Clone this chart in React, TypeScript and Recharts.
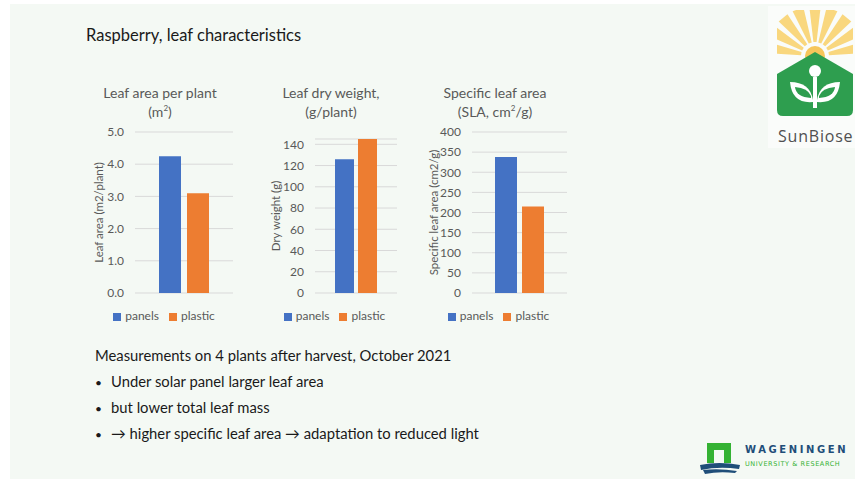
import React from "react"
import { Bar, BarChart, CartesianGrid, Legend, XAxis, YAxis } from "recharts"

const categories = ["raspberry"]
const seriesNames = ["panels", "plastic"]

const leafArea = [4.25, 3.1]
const dryWeight = [126, 145]
const specificLeafArea = [338, 215]

const leafAreaTicks = [0, 1, 2, 3, 4, 5]
const dryWeightTicks = [0, 20, 40, 60, 80, 100, 120, 140]
const slaTicks = [0, 50, 100, 150, 200, 250, 300, 350, 400]

const BLUE = "#4472c4"
const ORANGE = "#ed7d31"
const GREY = "#595959"
const FONT = "Lato, 'Open Sans', sans-serif"

const toRows = (values: number[]) =>
  categories.map((name) => ({
    name,
    [seriesNames[0]]: values[0],
    [seriesNames[1]]: values[1],
  }))

type PanelProps = {
  left: number
  width: number
  axisWidth: number
  marginTop: number
  values: number[]
  ticks: number[]
  domain: [number, number | string]
  yLabel: string
  barSize: number
  barGap: number
  format?: (v: number) => string
}

// chart is shifted 10px left so the rotated axis label has room
function Panel(p: PanelProps) {
  return (
    <div style={{ position: "absolute", left: p.left - 10, top: 122 }}>
      <BarChart
        width={p.width + 10}
        height={216}
        data={toRows(p.values)}
        margin={{ top: p.marginTop, right: 0, bottom: 0, left: 10 }}
        barSize={p.barSize}
        barGap={p.barGap}
      >
        <CartesianGrid vertical={false} stroke="#d9d9d9" />
        <XAxis dataKey="name" hide />
        <YAxis
          width={p.axisWidth}
          domain={p.domain}
          ticks={p.ticks}
          tickLine={false}
          axisLine={false}
          tickMargin={5}
          interval={0}
          tickFormatter={p.format}
          tick={{ fill: GREY, fontSize: 12, fontFamily: FONT }}
          label={{
            value: p.yLabel,
            angle: -90,
            position: "insideLeft",
            offset: 6,
            style: { textAnchor: "middle", fill: GREY, fontSize: 11.5, fontFamily: FONT },
          }}
        />
        <Legend
          height={30}
          iconType="square"
          iconSize={8}
          wrapperStyle={{ paddingTop: 15, paddingLeft: 6, fontFamily: FONT, fontSize: 12 }}
          formatter={(v) => <span style={{ color: GREY }}>{v}</span>}
        />
        <Bar dataKey={seriesNames[0]} fill={BLUE} isAnimationActive={false} />
        <Bar dataKey={seriesNames[1]} fill={ORANGE} isAnimationActive={false} />
      </BarChart>
    </div>
  )
}

const supStyle: React.CSSProperties = { fontSize: 8, lineHeight: 0 }

function ChartTitle({ center, lines }: { center: number; lines: React.ReactNode[] }) {
  return (
    <div
      style={{
        position: "absolute",
        left: center - 90,
        width: 180,
        top: 83,
        textAlign: "center",
        color: GREY,
        fontSize: 14,
        lineHeight: "19px",
        fontFamily: FONT,
      }}
    >
      {lines.map((l, i) => (
        <div key={i}>{l}</div>
      ))}
    </div>
  )
}

function SunBioseLogo() {
  const rays = []
  const cx = 815
  const cy = 56
  for (let i = 0; i < 9; i++) {
    const a0 = Math.PI + (i / 9) * Math.PI + 0.06
    const a1 = Math.PI + ((i + 1) / 9) * Math.PI - 0.06
    const r0 = 14
    const r1 = 50
    const pts = [
      [cx + r0 * Math.cos(a0), cy + r0 * Math.sin(a0)],
      [cx + r1 * Math.cos(a0), cy + r1 * Math.sin(a0)],
      [cx + r1 * Math.cos(a1), cy + r1 * Math.sin(a1)],
      [cx + r0 * Math.cos(a1), cy + r0 * Math.sin(a1)],
    ]
    rays.push(<polygon key={i} points={pts.map((q) => q.join(",")).join(" ")} fill="#f9d77e" />)
  }
  return (
    <svg width={855} height={160} style={{ position: "absolute", left: 0, top: 0 }}>
      <defs>
        <clipPath id="sunclip">
          <rect x={777} y={10} width={76} height={46} />
        </clipPath>
      </defs>
      <rect x={768} y={6} width={90} height={142} fill="#fafcfa" />
      <g clipPath="url(#sunclip)">{rays}</g>
      <circle cx={cx} cy={cy} r={10} fill="#f6c65b" />
      <path
        d="M777,74 L815,52 L853,74 L853,110 Q853,116 847,116 L783,116 Q777,116 777,110 Z"
        fill="#2e9e4f"
      />
      <circle cx={815} cy={71} r={6} fill="#ffffff" />
      <path d="M813,77 L817,77 L817,108 L813,108 Z" fill="#ffffff" />
      <path d="M813,102 Q792,104 790,82 Q810,82 813,100 Z" fill="#ffffff" />
      <path d="M817,102 Q838,104 840,82 Q820,82 817,100 Z" fill="#ffffff" />
      <path d="M811,98 Q796,97 795,87 Q808,88 811,96 Z" fill="#2e9e4f" />
      <path d="M819,98 Q834,97 835,87 Q822,88 819,96 Z" fill="#2e9e4f" />
    </svg>
  )
}

function WageningenLogo() {
  return (
    <>
      <svg width={60} height={40} style={{ position: "absolute", left: 695, top: 436 }}>
        <path d="M12,7 L36,7 L36,27 L29,27 L29,14 L19,14 L19,27 L12,27 Z" fill="#34b233" />
        <path d="M5,29 Q24,25 45,29 L44,33 Q24,30 6,34 Z" fill="#1f4e79" />
        <path d="M8,34 Q24,32 42,35 L40,37 Q24,35 10,38 Z" fill="#1f4e79" />
      </svg>
      <div
        style={{
          position: "absolute",
          left: 745,
          top: 444,
          fontFamily: "'DejaVu Sans', sans-serif",
          fontWeight: "bold",
          fontSize: 10,
          letterSpacing: 2.6,
          color: "#1f4e79",
          whiteSpace: "nowrap",
        }}
      >
        WAGENINGEN
      </div>
      <div
        style={{
          position: "absolute",
          left: 745,
          top: 460,
          fontFamily: "'DejaVu Sans', sans-serif",
          fontSize: 6.5,
          letterSpacing: 0.6,
          color: "#34b233",
          whiteSpace: "nowrap",
        }}
      >
        UNIVERSITY &amp; RESEARCH
      </div>
    </>
  )
}

const bullets = [
  "Under solar panel larger leaf area",
  "but lower total leaf mass",
  "\u2192 higher specific leaf area \u2192 adaptation to reduced light",
]

export default function App() {
  return (
    <div
      style={{
        position: "absolute",
        left: 0,
        top: 0,
        width: 855,
        height: 480,
        overflow: "hidden",
        background: "#ffffff",
        fontFamily: FONT,
      }}
    >
      <div
        style={{
          position: "absolute",
          left: 10,
          top: 4,
          width: 845,
          height: 475,
          background: "#f4f9f4",
        }}
      />
      <div
        style={{
          position: "absolute",
          left: 86,
          top: 25,
          fontSize: 16.5,
          color: "#1a1a1a",
          fontFamily: FONT,
        }}
      >
        Raspberry, leaf characteristics
      </div>

      <ChartTitle center={160} lines={["Leaf area per plant", <span>(m<sup style={supStyle}>2</sup>)</span>]} />
      <ChartTitle center={331} lines={["Leaf dry weight,", "(g/plant)"]} />
      <ChartTitle
        center={495}
        lines={["Specific leaf area", <span>(SLA, cm<sup style={supStyle}>2</sup>/g)</span>]}
      />

      <Panel
        left={93}
        width={140}
        axisWidth={42}
        marginTop={10}
        values={leafArea}
        ticks={leafAreaTicks}
        domain={[0, 5]}
        yLabel="Leaf area (m2/plant)"
        barSize={22}
        barGap={6}
        format={(v) => v.toFixed(1)}
      />
      <Panel
        left={270}
        width={127}
        axisWidth={45}
        marginTop={17}
        values={dryWeight}
        ticks={dryWeightTicks}
        domain={[0, "dataMax"]}
        yLabel="Dry weight (g)"
        barSize={19}
        barGap={4}
      />
      <Panel
        left={428}
        width={139}
        axisWidth={44}
        marginTop={10}
        values={specificLeafArea}
        ticks={slaTicks}
        domain={[0, 400]}
        yLabel="Specific leaf area (cm2/g)"
        barSize={22}
        barGap={5}
      />

      <div style={{ position: "absolute", left: 95, top: 346, fontSize: 14.8, color: "#1a1a1a" }}>
        Measurements on 4 plants after harvest, October 2021
      </div>
      {bullets.map((b, i) => (
        <div
          key={i}
          style={{
            position: "absolute",
            left: 95,
            top: 372 + i * 26,
            fontSize: 14.8,
            color: "#1a1a1a",
            whiteSpace: "nowrap",
          }}
        >
          <span style={{ display: "inline-block", width: 16, fontSize: 12 }}>•</span>
          {b}
        </div>
      ))}

      <SunBioseLogo />
      <div
        style={{
          position: "absolute",
          left: 778,
          top: 125,
          fontSize: 16,
          letterSpacing: 0.8,
          color: "#505050",
          fontFamily: "'Open Sans', sans-serif",
          whiteSpace: "nowrap",
        }}
      >
        SunBiose
      </div>
      <WageningenLogo />
    </div>
  )
}
